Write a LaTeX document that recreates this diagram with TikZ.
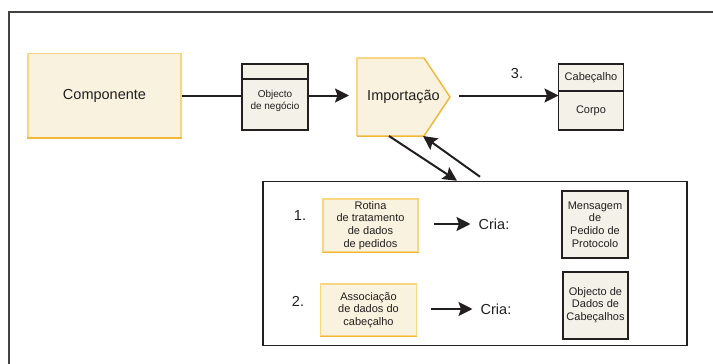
\documentclass[tikz,border=0pt]{standalone}
\usepackage{fontspec}
\setmainfont{Liberation Sans}
\usetikzlibrary{arrows.meta,positioning,backgrounds}

\definecolor{cream}{RGB}{248,242,222}
\definecolor{lightorange}{RGB}{248,214,130}
\definecolor{darkorange}{RGB}{241,183,58}
\definecolor{boxgray}{RGB}{244,241,233}
\definecolor{ink}{RGB}{35,31,32}

\begin{document}
\begin{tikzpicture}[x=1pt,y=-1pt,>={Stealth[length=14pt,width=14pt,inset=2.5pt]},
  line width=2pt,draw=ink,text=ink,
  conn/.style={->,line width=2pt},
  cream box/.style={rectangle,fill=cream,draw=lightorange,line width=1.2pt,align=center,
    inner sep=0pt,font=\fontsize{11}{12.7}\selectfont},
  gray box/.style={rectangle,fill=boxgray,draw=ink,line width=1.5pt,align=center,
    inner sep=0pt,outer sep=0pt,font=\fontsize{11}{12.7}\selectfont},
  big label/.style={font=\fontsize{14.5}{17}\selectfont,inner sep=0pt}]

  \useasboundingbox (0,0) rectangle (713,364);
  \draw[line width=1.5pt,draw=ink!85] (9,364) -- (9,12) -- (713,12);

  % top row
  \node[cream box,minimum width=153pt,minimum height=84pt,
        font=\fontsize{14.5}{17}\selectfont] (comp) at (104.5,95.5) {Componente};
  \node[gray box,line width=1.2pt,minimum width=66pt,minimum height=66pt] (obj) at (275,97) {};
  \draw[line width=1.2pt] ([yshift=-15pt]obj.north west) -- ([yshift=-15pt]obj.north east);
  \node[font=\fontsize{10}{11.5}\selectfont,align=center,inner sep=0pt] (objtxt)
        at ([yshift=-4pt]obj.center) {Objecto\\de negócio};

  \node[big label,minimum width=91pt,minimum height=76pt] (imp) at (403.5,97) {Importação};
  \begin{pgfonlayer}{background}
    \fill[cream] (imp.north west) -- ([xshift=-26pt]imp.north east) -- (imp.east)
      -- ([xshift=-26pt]imp.south east) -- (imp.south west) -- cycle;
    \draw[lightorange,line width=1.2pt] (imp.south west) -- (imp.north west)
      -- ([xshift=-26pt]imp.north east);
    \draw[darkorange,line width=1.5pt,line join=round] ([xshift=-26pt]imp.north east)
      -- (imp.east) -- ([xshift=-26pt]imp.south east) -- (imp.south west);
  \end{pgfonlayer}

  \node[big label] (n3) at (517,74) {3.};
  \node[gray box,line width=1.3pt,minimum width=65pt,minimum height=27pt] (cab) at (591,77.5) {Cabeçalho};
  \node[gray box,line width=1.3pt,minimum width=65pt,minimum height=39pt,below=0pt of cab] (corpo) {Corpo};

  % lower panel
  \node[draw=ink,line width=1.5pt,fill=white,minimum width=424pt,minimum height=164pt,
        inner sep=0pt] (low) at (475,263.5) {};

  \node[big label] (n1) at (300,216) {1.};
  \node[cream box,minimum width=95pt,minimum height=53pt] (rot) at (370.5,225.5)
        {Rotina\\de tratamento\\de dados\\de pedidos};
  \node[big label] (cria1) at (494,224) {Cria:};
  \node[gray box,minimum width=66pt,minimum height=67pt] (msg) at (595,224.5)
        {Mensagem\\de\\Pedido de\\Protocolo};

  \node[big label] (n2) at (298,301) {2.};
  \node[cream box,minimum width=96pt,minimum height=52pt] (assoc) at (368.5,310)
        {Associação\\de dados do\\cabeçalho};
  \node[big label] (cria2) at (496,309) {Cria:};
  \node[gray box,line width=2pt,minimum width=65pt,minimum height=67pt] (hdr) at (595.5,305)
        {Objecto de\\Dados de\\Cabeçalhos};

  \foreach \b in {comp,rot,assoc}
    \draw[darkorange,line width=1.5pt] (\b.south west) -- (\b.south east);

  \path[conn]
    (comp.east) edge[-] (obj.west |- comp.east)
    (obj.east |- comp.east) edge ([xshift=-8pt]imp.west |- comp.east)
    ([xshift=9pt]imp.east |- comp.east) edge (corpo.west |- comp.east)
    ([xshift=-14.5pt]imp.south) edge ([xshift=-18pt]low.north)
    ([xshift=5pt,yshift=4pt]low.north) edge ([xshift=19.5pt]imp.south)
    ([xshift=15pt]rot.east |- cria1.west) edge ([xshift=-8pt]cria1.west)
    ([xshift=14pt]assoc.east |- cria2.west) edge ([xshift=-8pt]cria2.west);
\end{tikzpicture}
\end{document}
